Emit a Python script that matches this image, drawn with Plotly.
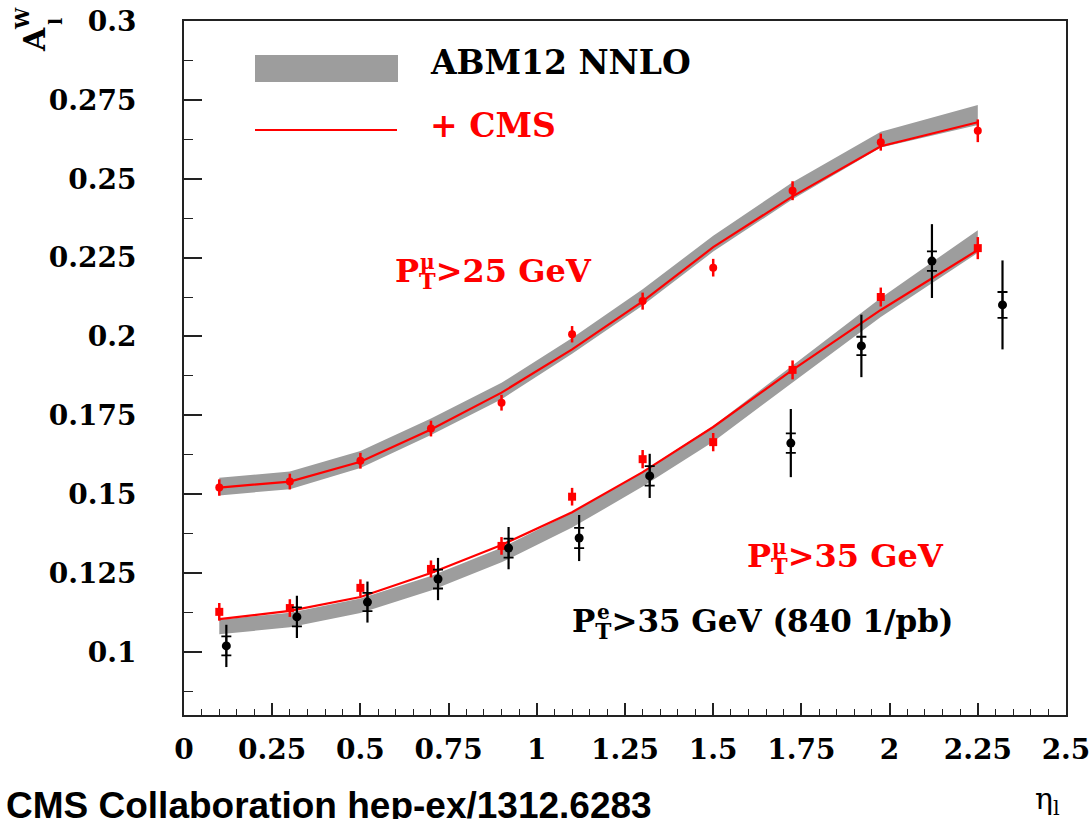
import plotly.graph_objects as go

# ---------------- data ----------------
eta_mu = [0.1, 0.3, 0.5, 0.7, 0.9, 1.1, 1.3, 1.5, 1.725, 1.975, 2.25]
eta_e = [0.12, 0.32, 0.52, 0.72, 0.92, 1.12, 1.32, 1.72, 1.92, 2.12, 2.32]

# ABM12 NNLO theory band (centre and half width)
abm_25_center = [0.1524, 0.1544, 0.1610, 0.1714, 0.1827, 0.1970, 0.2124, 0.2294, 0.2462, 0.2624, 0.2702]
abm_25_halfwidth = [0.0028, 0.0028, 0.0027, 0.0026, 0.0026, 0.0025, 0.0026, 0.0025, 0.0027, 0.0025, 0.0032]
abm_35_center = [0.1079, 0.1101, 0.1146, 0.1218, 0.1307, 0.1418, 0.1548, 0.1691, 0.1881, 0.2092, 0.2301]
abm_35_halfwidth = [0.0023, 0.0023, 0.0023, 0.0023, 0.0023, 0.0024, 0.0024, 0.0025, 0.0027, 0.0030, 0.0036]

# ABM12 + CMS fit lines
fit_25 = [0.1521, 0.1540, 0.1603, 0.1705, 0.1822, 0.1959, 0.2111, 0.2283, 0.2444, 0.2603, 0.2679]
fit_35 = [0.1104, 0.1130, 0.1174, 0.1250, 0.1339, 0.1443, 0.1570, 0.1713, 0.1894, 0.2084, 0.2274]

# CMS muon data
mu25_val = [0.1521, 0.1540, 0.1606, 0.1708, 0.1790, 0.2007, 0.2112, 0.2218, 0.2462, 0.2616, 0.2652]
mu25_err = [0.0026, 0.0025, 0.0025, 0.0025, 0.0025, 0.0026, 0.0027, 0.0028, 0.0030, 0.0027, 0.0036]
mu35_val = [0.1127, 0.1139, 0.1203, 0.1263, 0.1336, 0.1492, 0.1611, 0.1665, 0.1894, 0.2125, 0.2280]
mu35_err = [0.0028, 0.0028, 0.0027, 0.0027, 0.0028, 0.0028, 0.0029, 0.0029, 0.0030, 0.0030, 0.0035]

# CMS electron data (840 1/pb)
e35_val = [0.1019, 0.1111, 0.1158, 0.1231, 0.1329, 0.1361, 0.1558, 0.1662, 0.1970, 0.2239, 0.2100]
e35_tot = [0.0067, 0.0067, 0.0065, 0.0067, 0.0067, 0.0073, 0.0070, 0.0108, 0.0099, 0.0117, 0.0141]
e35_stat = [0.0030, 0.0030, 0.0029, 0.0030, 0.0030, 0.0032, 0.0031, 0.0031, 0.0029, 0.0031, 0.0041]

x_tickvals = [0, 0.25, 0.5, 0.75, 1.0, 1.25, 1.5, 1.75, 2.0, 2.25, 2.5]
x_ticktext = ["0", "0.25", "0.5", "0.75", "1", "1.25", "1.5", "1.75", "2", "2.25", "2.5"]
y_tickvals = [0.1, 0.125, 0.15, 0.175, 0.2, 0.225, 0.25, 0.275, 0.3]
y_ticktext = ["0.1", "0.125", "0.15", "0.175", "0.2", "0.225", "0.25", "0.275", "0.3"]

# ---------------- style ----------------
W, H = 1090, 819
ML, MR, MT, MB = 184, 24, 21, 104
SERIF = "DejaVu Serif"
SANS = "Liberation Sans"
RED = "#ff0000"
BAND = "#9d9d9d"


def px(xp):
    return (xp - ML) / (W - ML - MR)


def py(yp):
    return (H - MB - yp) / (H - MT - MB)


fig = go.Figure()

# theory bands
for c, h in [(abm_25_center, abm_25_halfwidth), (abm_35_center, abm_35_halfwidth)]:
    lo = [a - b for a, b in zip(c, h)]
    hi = [a + b for a, b in zip(c, h)]
    fig.add_trace(go.Scatter(x=eta_mu, y=lo, mode="lines", line=dict(width=0, color=BAND),
                             showlegend=False, hoverinfo="skip"))
    fig.add_trace(go.Scatter(x=eta_mu, y=hi, mode="lines", line=dict(width=0, color=BAND),
                             fill="tonexty", fillcolor=BAND, showlegend=False, hoverinfo="skip"))

# fit lines
for f in [fit_25, fit_35]:
    fig.add_trace(go.Scatter(x=eta_mu, y=f, mode="lines", line=dict(color=RED, width=2.2),
                             showlegend=False))

# muon data
fig.add_trace(go.Scatter(x=eta_mu, y=mu25_val, mode="markers",
                         marker=dict(symbol="circle", size=8, color=RED),
                         error_y=dict(type="data", array=mu25_err, color=RED, thickness=2.5, width=0),
                         showlegend=False))
fig.add_trace(go.Scatter(x=eta_mu, y=mu35_val, mode="markers",
                         marker=dict(symbol="square", size=8, color=RED),
                         error_y=dict(type="data", array=mu35_err, color=RED, thickness=2.5, width=0),
                         showlegend=False))

# electron data: total errors and statistical ticks
fig.add_trace(go.Scatter(x=eta_e, y=e35_val, mode="markers",
                         marker=dict(symbol="circle", size=9, color="black"),
                         error_y=dict(type="data", array=e35_tot, color="black", thickness=2.2, width=0),
                         showlegend=False))
fig.add_trace(go.Scatter(x=eta_e, y=e35_val, mode="markers",
                         marker=dict(size=1, color="rgba(0,0,0,0)"),
                         error_y=dict(type="data", array=e35_stat, color="black", thickness=1.8, width=5),
                         showlegend=False, hoverinfo="skip"))

# legend drawn by hand
fig.add_shape(type="rect", xref="paper", yref="paper", x0=px(255), x1=px(398), y0=py(82), y1=py(55),
              fillcolor=BAND, line=dict(width=0))
fig.add_shape(type="line", xref="paper", yref="paper", x0=px(255), x1=px(397), y0=py(130), y1=py(130),
              line=dict(color=RED, width=2))

annots = []


def txt(text, x, y, size, color="black", family=SERIF, weight="bold", xanchor="left",
        yanchor="middle", angle=0):
    annots.append(dict(text=text, xref="paper", yref="paper", x=x, y=y, xanchor=xanchor,
                       yanchor=yanchor, showarrow=False, textangle=angle,
                       font=dict(family=family, size=size, color=color, weight=weight)))


txt("ABM12 NNLO", px(428), py(63), 33)
txt("+ CMS", px(428), py(126), 33, RED)
txt("P<sub>T</sub>&gt;25 GeV", px(393), py(273), 32, RED)
txt("μ", px(418), py(262), 20, RED)
txt("P<sub>T</sub>&gt;35 GeV", px(745), py(558), 32, RED)
txt("μ", px(770), py(547), 20, RED)
txt("P<sub>T</sub>&gt;35 GeV (840 1/pb)", px(570), py(623), 31, "black")
txt("e", px(595), py(612), 20, "black")
txt("CMS Collaboration hep-ex/1312.6283", px(4), py(805), 37, "black", family=SANS)
txt("η<sub>l</sub>", px(1033), py(800), 30, "black", weight="normal")
txt("A", px(34), py(40), 30, "black", xanchor="center", angle=-90)
txt("W", px(22), py(19), 19, "black", xanchor="center", angle=-90)
txt("l", px(55), py(22), 19, "black", xanchor="center", angle=-90)

axis_common = dict(showgrid=False, zeroline=False, showline=True, mirror=True,
                   linecolor="#222222", linewidth=2, ticks="inside", tickcolor="#222222",
                   ticklabeloverflow="allow", automargin=False,
                   tickfont=dict(family=SERIF, size=28, color="black", weight="bold"))

fig.update_layout(
    width=W, height=H,
    margin=dict(l=ML, r=MR, t=MT, b=MB, autoexpand=False),
    paper_bgcolor="white", plot_bgcolor="white",
    showlegend=False,
    annotations=annots,
    xaxis=dict(range=[0, 2.5], tickvals=x_tickvals, ticktext=x_ticktext, ticklen=12, tickwidth=1.5,
               ticklabelstandoff=8,
               minor=dict(dtick=0.05, tick0=0, ticklen=6, ticks="inside", tickcolor="#222222", tickwidth=1.2),
               **axis_common),
    yaxis=dict(range=[0.08, 0.3], tickvals=y_tickvals, ticktext=y_ticktext, ticklen=18, tickwidth=1.5,
               ticklabelstandoff=40,
               minor=dict(dtick=0.0125, tick0=0.1, ticklen=9, ticks="inside", tickcolor="#222222", tickwidth=1.2),
               **axis_common),
)

fig.write_html("out.html")
